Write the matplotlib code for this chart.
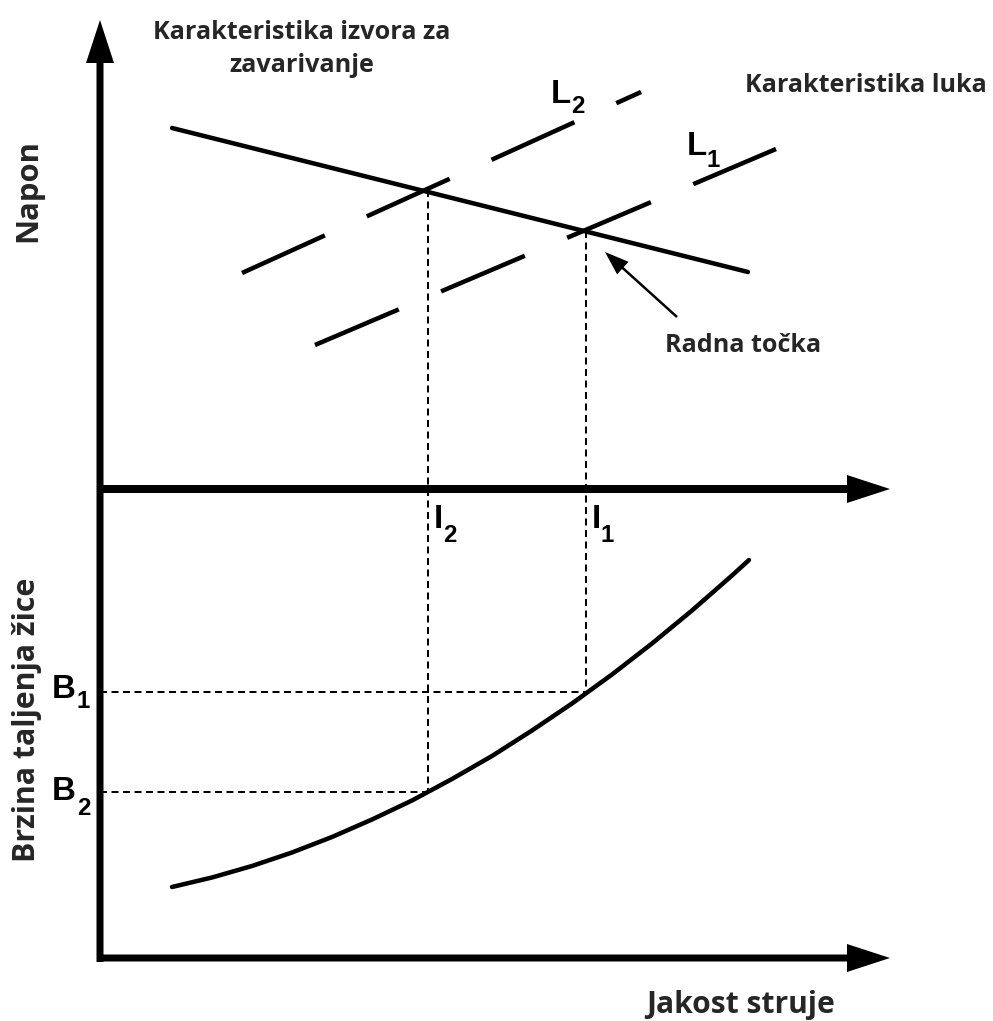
import matplotlib as mpl
import matplotlib.pyplot as plt

mpl.rcParams['lines.scale_dashes'] = False

# schematic coordinates (picture pixels, y grows downward)
source_x = [172, 748]          # Karakteristika izvora za zavarivanje
source_y = [128, 272]
arc_L2_x = [242, 641]          # Karakteristika luka L2
arc_L2_y = [273, 92]
arc_L1_x = [315, 776]          # Karakteristika luka L1
arc_L1_y = [345, 149]
I2, I1 = 428, 586              # currents at the two operating points
U2, U1 = 190, 231              # voltages at the two operating points
B1, B2 = 692, 792              # wire melting rates
wire_x = [172, 212, 252, 292, 332, 372, 412, 452, 492, 532, 572, 612, 652,
          692, 732, 749]
wire_y = [887, 877.5, 866, 852.5, 837, 819.5, 800.5, 779, 756, 730.5, 703.5,
          674.5, 643.5, 610.5, 575.5, 560]

DPI = 100
def pt(px):
    return px * 72.0 / DPI

fig = plt.figure(figsize=(9.93, 10.21), dpi=DPI)
ax = fig.add_axes([0, 0, 1, 1])
ax.set_xlim(0, 993)
ax.set_ylim(1021, 0)
ax.axis('off')

# axes arrows
ax.arrow(100, 962, 0, -942, width=7, head_width=28, head_length=43,
         length_includes_head=True, fc='k', ec='none')
ax.arrow(97, 489, 793, 0, width=8, head_width=28, head_length=43,
         length_includes_head=True, fc='k', ec='none')
ax.arrow(97, 958, 793, 0, width=7, head_width=28, head_length=43,
         length_includes_head=True, fc='k', ec='none')

# source characteristic
ax.plot(source_x, source_y, 'k', lw=pt(4.5), solid_capstyle='round')

# arc characteristics
dash = (0, (pt(91), pt(46)))
ax.plot(arc_L2_x, arc_L2_y, 'k', lw=pt(4.5), linestyle=dash)
ax.plot(arc_L1_x, arc_L1_y, 'k', lw=pt(4.5), linestyle=dash)

# wire melting rate curve
ax.plot(wire_x, wire_y, 'k', lw=pt(4.5), solid_capstyle='round',
        solid_joinstyle='round')

# projection lines
dot = (0, (pt(7), pt(4.5)))
ax.plot([I2, I2], [U2, B2], 'k', lw=pt(2), linestyle=dot)
ax.plot([I1, I1], [U1, B1], 'k', lw=pt(2), linestyle=dot)
ax.plot([100, I1], [B1, B1], 'k', lw=pt(2), linestyle=dot)
ax.plot([100, I2], [B2, B2], 'k', lw=pt(2), linestyle=dot)

# pointer to the operating point
ax.arrow(677, 317, -72, -65, width=2.5, head_width=17, head_length=24,
         length_includes_head=True, fc='k', ec='none')

# labels
txt = dict(family='Open Sans', weight='bold', color='#262626')
ax.text(302, 49, 'Karakteristika izvora za\nzavarivanje', ha='center',
        va='center', multialignment='center', linespacing=1.45,
        fontsize=pt(25.2), **txt)
ax.text(866, 85, 'Karakteristika luka', ha='center', va='center',
        fontsize=pt(25.1), **txt)
ax.text(743, 345, 'Radna točka', ha='center', va='center',
        fontsize=pt(25.1), **txt)
ax.text(28, 191, 'Napon', ha='center', va='center', rotation=90,
        fontsize=pt(31), **txt)
ax.text(27, 720, 'Brzina taljenja žice', ha='center', va='center',
        rotation=90, fontsize=pt(30.2), **txt)
ax.text(741, 1005, 'Jakost struje', ha='center', va='center',
        fontsize=pt(30), **txt)

sym = dict(family='Liberation Sans', weight='bold', color='k',
           ha='left', va='baseline')
big, small = pt(33), pt(24)
ax.text(551, 103, 'L', fontsize=big, **sym)
ax.text(571, 113, '2', fontsize=small, **sym)
ax.text(687, 155, 'L', fontsize=big, **sym)
ax.text(707, 167, '1', fontsize=small, **sym)
ax.text(434, 528, 'I', fontsize=big, **sym)
ax.text(443, 542, '2', fontsize=small, **sym)
ax.text(592, 528, 'I', fontsize=big, **sym)
ax.text(600, 542, '1', fontsize=small, **sym)
ax.text(52, 698, 'B', fontsize=big, **sym)
ax.text(77, 708, '1', fontsize=small, **sym)
ax.text(52, 800, 'B', fontsize=big, **sym)
ax.text(77, 815, '2', fontsize=small, **sym)

fig.savefig('out.png', dpi=DPI)
